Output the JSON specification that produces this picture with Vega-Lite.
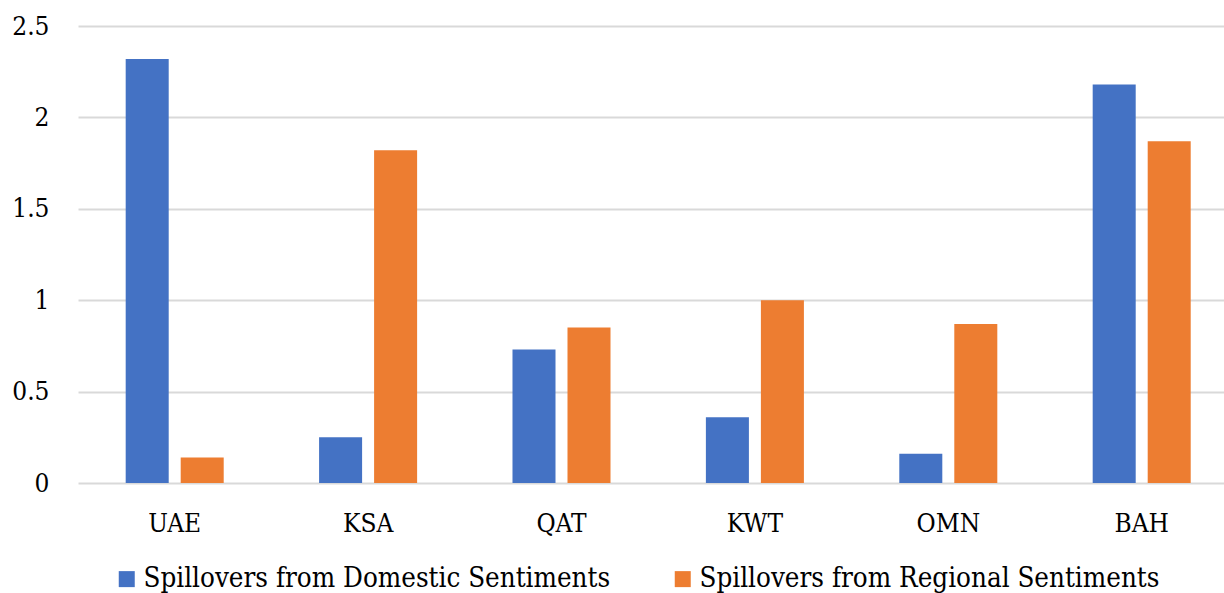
{
  "$schema": "https://vega.github.io/schema/vega-lite/v6.json",
  "autosize": {"type": "none"},
  "padding": {"left": 78, "top": 26, "right": 0, "bottom": 110},
  "width": 1146,
  "height": 457,
  "background": "white",
  "config": {
    "view": {"stroke": null},
    "font": "DejaVu Serif Condensed, DejaVu Serif"
  },
  "data": {
    "values": [
      {"country": "UAE", "series": "Spillovers from Domestic Sentiments", "value": 2.32},
      {"country": "UAE", "series": "Spillovers from Regional Sentiments", "value": 0.14},
      {"country": "KSA", "series": "Spillovers from Domestic Sentiments", "value": 0.25},
      {"country": "KSA", "series": "Spillovers from Regional Sentiments", "value": 1.82},
      {"country": "QAT", "series": "Spillovers from Domestic Sentiments", "value": 0.73},
      {"country": "QAT", "series": "Spillovers from Regional Sentiments", "value": 0.85},
      {"country": "KWT", "series": "Spillovers from Domestic Sentiments", "value": 0.36},
      {"country": "KWT", "series": "Spillovers from Regional Sentiments", "value": 1.0},
      {"country": "OMN", "series": "Spillovers from Domestic Sentiments", "value": 0.16},
      {"country": "OMN", "series": "Spillovers from Regional Sentiments", "value": 0.87},
      {"country": "BAH", "series": "Spillovers from Domestic Sentiments", "value": 2.18},
      {"country": "BAH", "series": "Spillovers from Regional Sentiments", "value": 1.87}
    ]
  },
  "mark": {"type": "bar"},
  "encoding": {
    "x": {
      "field": "country",
      "type": "nominal",
      "sort": ["UAE", "KSA", "QAT", "KWT", "OMN", "BAH"],
      "scale": {"range": [0, 1160.4], "paddingInner": 0, "paddingOuter": 0},
      "axis": {
        "title": null,
        "labelAngle": 0,
        "ticks": false,
        "tickSize": 0,
        "domain": false,
        "labelFontSize": 26,
        "labelColor": "#000000",
        "labelPadding": 27,
        "labelBaseline": "top"
      }
    },
    "xOffset": {
      "field": "series",
      "type": "nominal",
      "scale": {"paddingInner": 0.218, "paddingOuter": 0.867}
    },
    "y": {
      "field": "value",
      "type": "quantitative",
      "scale": {"domain": [0, 2.5], "nice": false},
      "axis": {
        "title": null,
        "values": [0, 0.5, 1, 1.5, 2, 2.5],
        "format": ".1~f",
        "ticks": false,
        "domain": false,
        "grid": true,
        "gridColor": "#d9d9d9",
        "gridWidth": 2,
        "labelFontSize": 26,
        "labelColor": "#000000",
        "labelPadding": 29,
        "labelBaseline": "middle"
      }
    },
    "color": {
      "field": "series",
      "type": "nominal",
      "scale": {
        "domain": ["Spillovers from Domestic Sentiments", "Spillovers from Regional Sentiments"],
        "range": ["#4472C4", "#ED7D31"]
      },
      "legend": {
        "title": null,
        "orient": "none",
        "direction": "horizontal",
        "legendX": 35,
        "legendY": 539,
        "symbolType": "square",
        "symbolSize": 256,
        "symbolStrokeWidth": 0,
        "labelFontSize": 27.5,
        "labelColor": "#000000",
        "labelOffset": 3,
        "columnPadding": 58,
        "labelLimit": 0
      }
    }
  }
}
